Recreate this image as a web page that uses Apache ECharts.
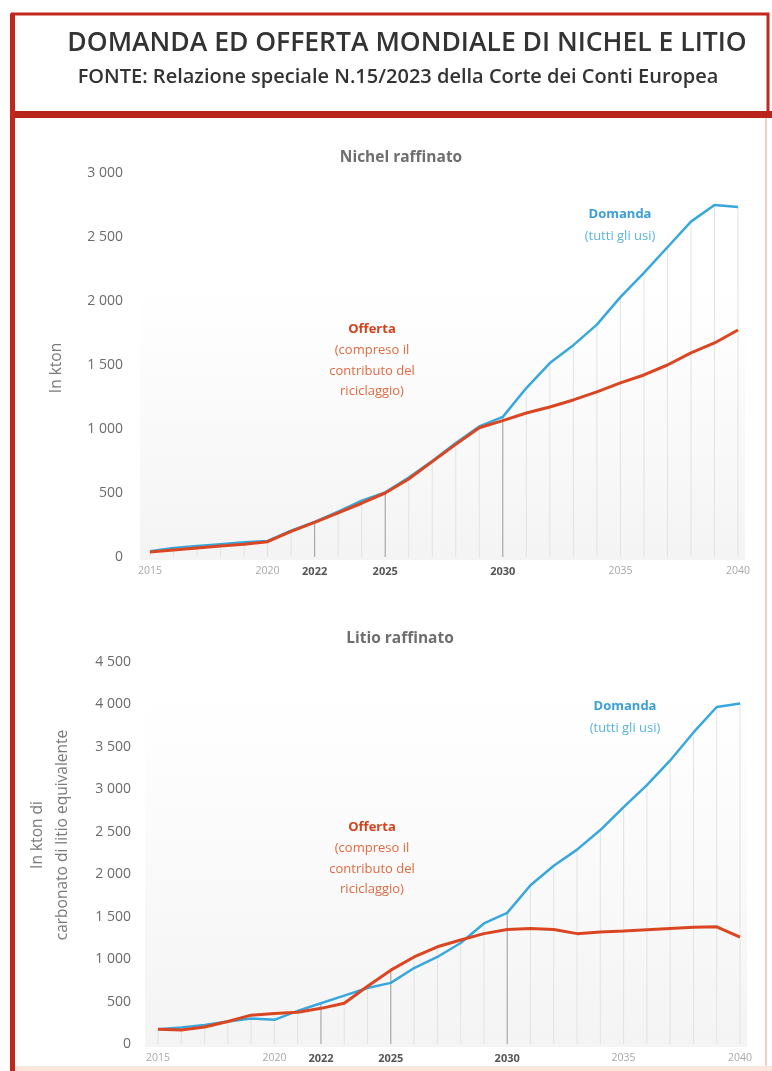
<!DOCTYPE html>
<html>
<head>
<meta charset="utf-8">
<script src="https://cdn.jsdelivr.net/npm/echarts@6/dist/echarts.min.js"></script>
<style>
  html, body { margin: 0; padding: 0; background: #fff; }
  #main { width: 772px; height: 1071px; }
</style>
</head>
<body>
<div id="main"></div>
<script>
// anni (asse x comune ai due grafici)
var anni = [2015, 2016, 2017, 2018, 2019, 2020, 2021, 2022, 2023, 2024, 2025, 2026, 2027,
            2028, 2029, 2030, 2031, 2032, 2033, 2034, 2035, 2036, 2037, 2038, 2039, 2040];
var anniEtichette = [2015, 2020, 2022, 2025, 2030, 2035, 2040];
var anniEvidenziati = [2022, 2025, 2030];

// Nichel raffinato (kton)
var nichelDomanda = [45, 70, 85, 100, 115, 125, 205, 275, 355, 440, 505, 620, 750, 890, 1020, 1095,
                     1320, 1515, 1655, 1815, 2030, 2220, 2420, 2620, 2750, 2735];
var nichelOfferta = [40, 55, 70, 85, 100, 120, 200, 270, 345, 420, 500, 610, 745, 880, 1010, 1065,
                     1125, 1172, 1227, 1290, 1360, 1422, 1500, 1595, 1672, 1773];

// Litio raffinato (kton di carbonato di litio equivalente)
var litioDomanda = [175, 195, 225, 265, 300, 285, 390, 480, 570, 660, 720, 895, 1025, 1190, 1420, 1545,
                    1870, 2100, 2290, 2520, 2790, 3050, 3340, 3670, 3970, 4010];
var litioOfferta = [175, 165, 200, 265, 340, 360, 375, 420, 480, 680, 870, 1025, 1145, 1225, 1300, 1350,
                    1360, 1350, 1300, 1320, 1330, 1345, 1360, 1375, 1380, 1260];

var BLU = '#38a7dc';
var ROSSO = '#da4621';

function coppie(valori) {
  return anni.map(function (a, i) { return [a, valori[i]]; });
}
// linee verticali per anno, fino alla curva piu' alta
function lineeAnno(d, o) {
  return anni.map(function (a, i) {
    var forte = anniEvidenziati.indexOf(a) >= 0;
    return {
      value: [a, Math.max(d[i], o[i])],
      itemStyle: { color: forte ? '#999' : '#e2e2e2' }
    };
  });
}
function migliaia(v) {
  if (v < 1000) return String(v);
  var r = String(v % 1000);
  while (r.length < 3) r = '0' + r;
  return Math.floor(v / 1000) + ' ' + r;
}

function asseX(idx) {
  return {
    type: 'value', gridIndex: idx, min: 2015, max: 2040,
    axisLine: { show: false }, axisTick: { show: false }, splitLine: { show: false },
    axisLabel: {
      customValues: anniEtichette, margin: 9,
      formatter: function (v) {
        return anniEvidenziati.indexOf(v) >= 0 ? '{b|' + v + '}' : '{n|' + v + '}';
      },
      rich: {
        n: { fontSize: 10.5, color: '#a8a8a8', fontFamily: 'Open Sans' },
        b: { fontSize: 11, color: '#555', fontWeight: 'bold', fontFamily: 'Open Sans' }
      }
    }
  };
}
function asseY(idx, max) {
  return {
    type: 'value', gridIndex: idx, min: 0, max: max, interval: 500,
    axisLine: { show: false }, axisTick: { show: false }, splitLine: { show: false },
    axisLabel: { formatter: migliaia, margin: 27, color: '#6a6a6a', fontSize: 14, fontFamily: 'Open Sans' }
  };
}
function serie(idx, d, o) {
  return [
    { type: 'bar', xAxisIndex: idx, yAxisIndex: idx, barWidth: 1, silent: true,
      data: lineeAnno(d, o) },
    { type: 'line', xAxisIndex: idx, yAxisIndex: idx, data: coppie(d), symbol: 'none',
      lineStyle: { color: BLU, width: 2.5 }, z: 3 },
    { type: 'line', xAxisIndex: idx, yAxisIndex: idx, data: coppie(o), symbol: 'none',
      lineStyle: { color: ROSSO, width: 3 }, z: 4 }
  ];
}

function testo(x, y, s, colore, peso, size, extra) {
  var el = { type: 'text', x: x, y: y, silent: true, style: {
    text: s, fill: colore, font: peso + ' ' + size + 'px "Open Sans"',
    align: 'center', verticalAlign: 'middle' } };
  if (extra) { for (var k in extra) el.style[k] = extra[k]; }
  return el;
}
function annotazioni(yOff, yDom, xDom) {
  return [
    testo(372, yOff, 'Offerta', '#d2421c', 'bold', 13),
    testo(372, yOff + 21, '(compreso il', '#e06a40', 'normal', 13),
    testo(372, yOff + 42, 'contributo del', '#e06a40', 'normal', 13),
    testo(372, yOff + 62, 'riciclaggio)', '#e06a40', 'normal', 13),
    testo(xDom, yDom, 'Domanda', '#3a9fd6', 'bold', 13),
    testo(xDom, yDom + 22, '(tutti gli usi)', '#5ab4e0', 'normal', 13)
  ];
}

var nomeNichel = testo(57, 368, 'In kton', '#7a7a7a', 'normal', 15.5);
nomeNichel.rotation = Math.PI / 2;
var nomeLitio = testo(50, 835, 'In kton di\ncarbonato di litio equivalente', '#7a7a7a', 'normal', 15.5,
  { lineHeight: 25 });
nomeLitio.rotation = Math.PI / 2;

var chart = echarts.init(document.getElementById('main'));
chart.setOption({
  backgroundColor: '#fff',
  animation: false,
  title: [
    { text: 'Nichel raffinato', left: 396, top: 145, textAlign: 'center',
      textStyle: { color: '#6e6e6e', fontSize: 15.5, fontWeight: 'bold', fontFamily: 'Open Sans' } },
    { text: 'Litio raffinato', left: 395, top: 626, textAlign: 'center',
      textStyle: { color: '#6e6e6e', fontSize: 15.5, fontWeight: 'bold', fontFamily: 'Open Sans' } }
  ],
  grid: [
    { left: 150, top: 173, width: 588, height: 384 },
    { left: 158, top: 662, width: 582, height: 382 }
  ],
  xAxis: [asseX(0), asseX(1)],
  yAxis: [asseY(0, 3000), asseY(1, 4500)],
  series: serie(0, nichelDomanda, nichelOfferta).concat(serie(1, litioDomanda, litioOfferta)),
  graphic: [
    // sfondo leggero delle aree dei grafici
    { type: 'rect', z: -10, silent: true, shape: { x: 140, y: 285, width: 605, height: 275 },
      style: { fill: new echarts.graphic.LinearGradient(0, 0, 0, 1,
        [{ offset: 0, color: 'rgba(245,245,245,0)' }, { offset: 1, color: '#f4f4f4' }]) } },
    { type: 'rect', z: -10, silent: true, shape: { x: 145, y: 690, width: 602, height: 357 },
      style: { fill: new echarts.graphic.LinearGradient(0, 0, 0, 1,
        [{ offset: 0, color: 'rgba(245,245,245,0)' }, { offset: 1, color: '#f4f4f4' }]) } },
    // cornice
    { type: 'rect', silent: true, shape: { x: 12, y: 14, width: 756, height: 101 },
      style: { fill: 'none', stroke: '#c3281e', lineWidth: 3 } },
    { type: 'rect', silent: true, shape: { x: 11, y: 111, width: 761, height: 7 },
      style: { fill: '#b9241a' } },
    { type: 'rect', silent: true, shape: { x: 10, y: 14, width: 5, height: 1057 },
      style: { fill: '#c0281d' } },
    { type: 'rect', silent: true, shape: { x: 765, y: 118, width: 2, height: 953 },
      style: { fill: '#f2cfc5' } },
    { type: 'rect', silent: true, shape: { x: 15, y: 1066, width: 757, height: 5 },
      style: { fill: '#fbe6dc' } },
    // intestazione
    testo(407, 43, 'DOMANDA ED OFFERTA MONDIALE DI NICHEL E LITIO', '#333', '600', 26.5),
    testo(398, 77, 'FONTE: Relazione speciale N.15/2023 della Corte dei Conti Europea', '#333', '600', 20),
    nomeNichel, nomeLitio
  ].concat(annotazioni(329, 214, 620)).concat(annotazioni(827, 706, 625))
});
</script>
</body>
</html>
